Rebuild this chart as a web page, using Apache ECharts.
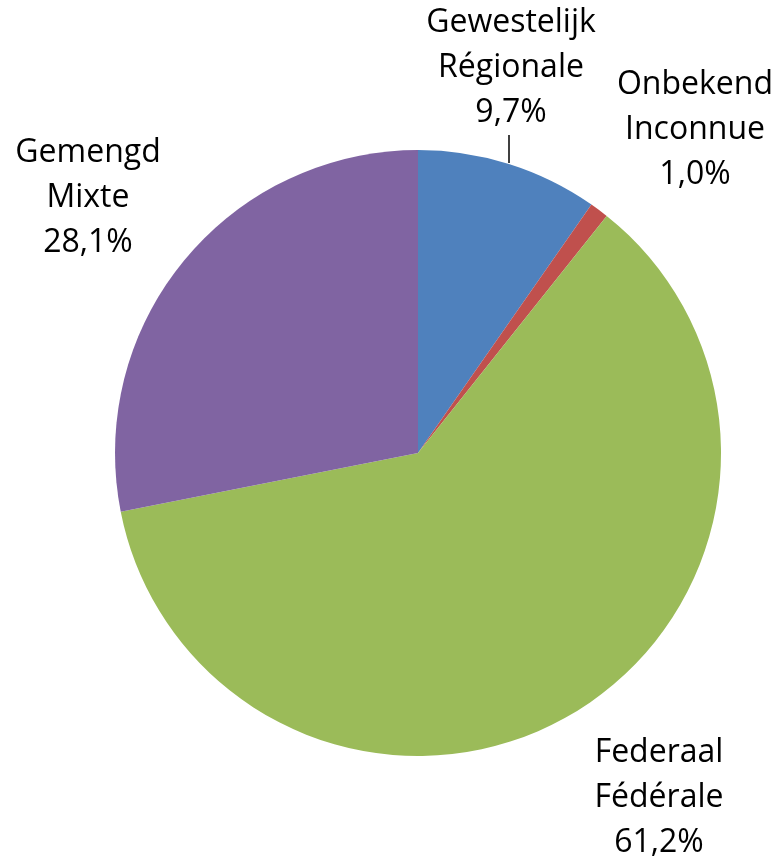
<!DOCTYPE html>
<html>
<head>
<meta charset="utf-8">
<script src="https://cdn.jsdelivr.net/npm/echarts@6/dist/echarts.min.js"></script>
<style>
  html, body { margin: 0; padding: 0; background: #fff; }
  #chart { width: 777px; height: 861px; }
</style>
</head>
<body>
<div id="chart"></div>
<script>
// slices, clockwise from the top
var namesNl = ['Gewestelijk', 'Onbekend', 'Federaal', 'Gemengd'];
var namesFr = ['Régionale', 'Inconnue', 'Fédérale', 'Mixte'];
var shares = [9.7, 1.0, 61.2, 28.1];
var colors = ['#4F81BD', '#C0504D', '#9BBB59', '#8064A2'];

// label centres (x, top of first line), same order as the slices
var labelPos = [[511, 0], [695, 62], [659, 730], [88, 130]];

var initChart = function () {
    var myChart = echarts.init(document.getElementById('chart'));
    var data = shares.map(function (v, i) {
        return {
            value: v,
            name: namesNl[i] + '\n' + namesFr[i],
            itemStyle: { color: colors[i] },
            labelLine: { show: i === 0 }
        };
    });
    var option = {
        animation: false,
        series: [
            {
                type: 'pie',
                center: [418, 453],
                radius: 303,
                startAngle: 90,
                clockwise: true,
                data: data,
                label: {
                    show: true,
                    position: 'outside',
                    fontFamily: 'Open Sans',
                    fontSize: 32,
                    lineHeight: 45,
                    color: '#000',
                    align: 'center',
                    overflow: 'none',
                    formatter: function (p) {
                        return p.name + '\n' + p.value.toFixed(1).replace('.', ',') + '%';
                    }
                },
                labelLine: {
                    show: false,
                    lineStyle: { color: '#000', width: 1.5 }
                },
                labelLayout: function (p) {
                    var pos = labelPos[p.dataIndex];
                    var res = {
                        x: pos[0],
                        y: pos[1],
                        align: 'center',
                        verticalAlign: 'top'
                    };
                    if (p.dataIndex === 0) {
                        res.labelLinePoints = [[509, 163], [509, 135], [509, 135]];
                    }
                    return res;
                }
            }
        ]
    };
    myChart.setOption(option);
};

initChart();
</script>
</body>
</html>
